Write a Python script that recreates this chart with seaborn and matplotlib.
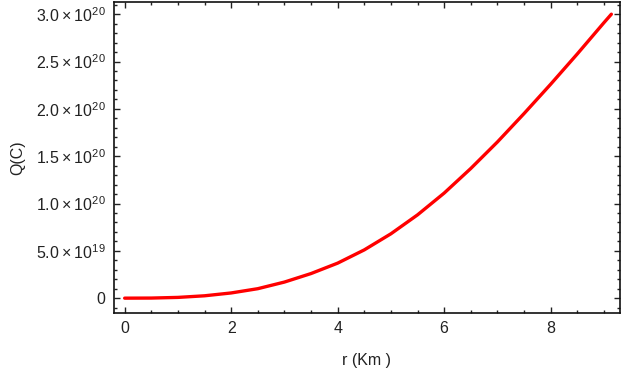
import numpy as np
import pandas as pd
import seaborn as sns
import matplotlib.pyplot as plt
from matplotlib.ticker import MultipleLocator, FixedLocator, FixedFormatter

# Data (Q in units of 1e20 C)
r_km = [0, 0.5, 1.0, 1.5, 2.0, 2.5, 3.0, 3.5, 4.0, 4.5, 5.0, 5.5,
        6.0, 6.5, 7.0, 7.5, 8.0, 8.5, 9.0, 9.14]
q_1e20 = [0, 0.001, 0.008, 0.025, 0.055, 0.10, 0.17, 0.26, 0.37, 0.51,
          0.68, 0.88, 1.11, 1.37, 1.65, 1.95, 2.26, 2.58, 2.91, 3.0]
y_ticks = [0, 0.5, 1.0, 1.5, 2.0, 2.5, 3.0]
y_labels = ["0", r"$\mathregular{5.0\times10^{19}}$", r"$\mathregular{1.0\times10^{20}}$",
            r"$\mathregular{1.5\times10^{20}}$", r"$\mathregular{2.0\times10^{20}}$",
            r"$\mathregular{2.5\times10^{20}}$", r"$\mathregular{3.0\times10^{20}}$"]

sns.set_style("ticks")
plt.rcParams["font.family"] = ["Liberation Sans", "DejaVu Sans"]
plt.rcParams["mathtext.fontset"] = "custom"
plt.rcParams["mathtext.rm"] = "Liberation Sans"

df = pd.DataFrame({"r": r_km, "Q": q_1e20})

fig = plt.figure(figsize=(6.23, 3.76), dpi=100)
ax = fig.add_axes([0.183, 0.168, 0.812, 0.827])
sns.lineplot(data=df, x="r", y="Q", ax=ax, color="#ff0000", linewidth=2.4)

ax.set_xlim(-0.20, 9.30)
ax.set_ylim(-0.155, 3.13)
ax.xaxis.set_major_locator(MultipleLocator(2))
ax.xaxis.set_minor_locator(MultipleLocator(0.5))
ax.yaxis.set_major_locator(FixedLocator(y_ticks))
ax.yaxis.set_major_formatter(FixedFormatter(y_labels))
ax.yaxis.set_minor_locator(MultipleLocator(0.1))

ax.tick_params(which="both", direction="in", top=True, right=True,
               labelsize=11.5, colors="#222222", width=1.0)
ax.tick_params(which="major", length=4, pad=6)
ax.tick_params(which="minor", length=2.5)
for s in ax.spines.values():
    s.set_linewidth(1.2)
    s.set_color("#111111")

ax.set_xlabel("r (Km )", fontsize=11.5, labelpad=12, color="#222222")
ax.set_ylabel("Q(C)", fontsize=11.5, labelpad=8, color="#222222")

fig.savefig("out.png", dpi=100)
